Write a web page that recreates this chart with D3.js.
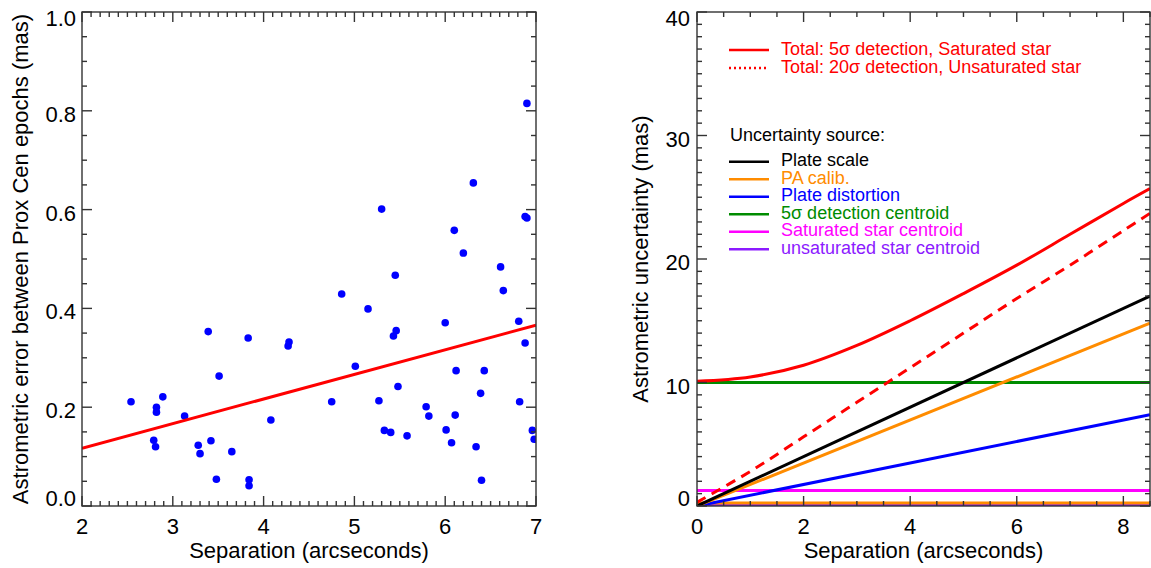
<!DOCTYPE html>
<html>
<head>
<meta charset="utf-8">
<script src="https://cdn.jsdelivr.net/npm/d3@7"></script>
<style>
  html, body { margin: 0; padding: 0; background: #fff; }
  svg { display: block; font-family: "Liberation Sans", Arial, Helvetica, sans-serif; }
</style>
</head>
<body>
<svg id="chart" width="1151" height="568"></svg>
<script>
// ---- Left panel: epoch-to-epoch astrometric error vs separation ----
const sepArcsec = [6.90, 6.31, 5.30, 6.88, 6.90, 6.10, 6.20, 6.61, 6.64, 5.45,
                   4.86, 5.15, 6.00, 6.81, 5.46, 5.43, 3.39, 3.83, 4.28, 4.27,
                   6.88, 5.01, 6.12, 6.43, 3.51, 5.48, 6.39, 2.89, 2.54, 4.75,
                   5.27, 6.82, 2.82, 2.82, 5.79, 5.82, 6.11, 3.13, 4.08, 6.01,
                   6.96, 5.33, 5.40, 5.58, 6.98, 6.07, 2.79, 2.81, 3.28, 3.42,
                   3.30, 3.65, 6.34, 3.48, 3.84, 3.84, 6.40];
const errMas    = [0.815, 0.654, 0.601, 0.586, 0.583, 0.558, 0.512, 0.484, 0.436, 0.467,
                   0.429, 0.399, 0.371, 0.374, 0.355, 0.344, 0.353, 0.340, 0.332, 0.324,
                   0.330, 0.283, 0.274, 0.274, 0.263, 0.242, 0.228, 0.221, 0.211, 0.211,
                   0.213, 0.211, 0.200, 0.190, 0.201, 0.182, 0.184, 0.182, 0.174, 0.154,
                   0.153, 0.153, 0.149, 0.142, 0.135, 0.128, 0.133, 0.120, 0.123, 0.132,
                   0.106, 0.110, 0.120, 0.054, 0.053, 0.041, 0.052];
// linear fit through the points, given at the two ends of the axis
const fitSep = [2, 7];
const fitErr = [0.117, 0.366];
const leftXTicks = [2, 3, 4, 5, 6, 7];
const leftYTicks = [0.0, 0.2, 0.4, 0.6, 0.8, 1.0];

// ---- Right panel: uncertainty budget vs separation ----
const budgetSep   = [0, 8.5];
const plateScale  = [0, 17.0];
const paCalib     = [0, 14.8];
const plateDistort = [0, 7.4];
const det5Centroid = [10.0, 10.0];
const satCentroid  = [1.25, 1.25];
const unsatCentroid = [0.05, 0.05];
const calibFloor   = [0.25, 0.25];
const totalSep   = [0, 1, 2, 3, 4, 5, 6, 7, 8, 8.5];
const totalSat   = [10.1, 10.45, 11.4, 13.0, 15.0, 17.2, 19.5, 22.0, 24.5, 25.7];
const totalUnsat = [0.3, 2.8, 5.6, 8.4, 11.2, 14.0, 16.8, 19.5, 22.3, 23.7];
const rightXTicks = [0, 2, 4, 6, 8];
const rightYTicks = [0, 10, 20, 30, 40];

const svg = d3.select("#chart");
const FONT_AXIS = 22, FONT_LEG = 18;
const frameColor = "#333";

// plot boxes
const L = { x0: 82, x1: 536, y0: 12, y1: 506 };
const R = { x0: 697, x1: 1150, y0: 12, y1: 506 };

const xL = d3.scaleLinear().domain([2, 7]).range([L.x0, L.x1]);
const yL = d3.scaleLinear().domain([0, 1]).range([L.y1, L.y0]);
const xR = d3.scaleLinear().domain([0, 8.5]).range([R.x0, R.x1]);
const yR = d3.scaleLinear().domain([0, 40]).range([R.y1, R.y0]);

const defs = svg.append("defs");
function clip(id, b) {
  defs.append("clipPath").attr("id", id).append("rect")
    .attr("x", b.x0).attr("y", b.y0).attr("width", b.x1 - b.x0).attr("height", b.y1 - b.y0);
}
clip("clipL", L);
clip("clipR", R);

// inward ticks on all four sides, IDL style
function drawFrame(b, xs, ys, xMajor, xMinorStep, yMajor, yMinorStep) {
  const g = svg.append("g").attr("stroke", frameColor).attr("stroke-width", 1.4).attr("fill", "none");
  const [xa, xb] = xs.domain(), [ya, yb] = ys.domain();
  const xMinor = d3.range(xa, xb + 1e-9, xMinorStep);
  const yMinor = d3.range(ya, yb + 1e-9, yMinorStep);
  const isMajor = (v, arr) => arr.some(m => Math.abs(m - v) < 1e-6);
  xMinor.forEach(v => {
    const len = isMajor(v, xMajor) ? 10 : 5, x = xs(v);
    g.append("line").attr("x1", x).attr("x2", x).attr("y1", b.y1).attr("y2", b.y1 - len);
    g.append("line").attr("x1", x).attr("x2", x).attr("y1", b.y0).attr("y2", b.y0 + len);
  });
  yMinor.forEach(v => {
    const len = isMajor(v, yMajor) ? 10 : 5, y = ys(v);
    g.append("line").attr("x1", b.x0).attr("x2", b.x0 + len).attr("y1", y).attr("y2", y);
    g.append("line").attr("x1", b.x1).attr("x2", b.x1 - len).attr("y1", y).attr("y2", y);
  });
  g.append("rect").attr("x", b.x0).attr("y", b.y0).attr("width", b.x1 - b.x0).attr("height", b.y1 - b.y0);
}

function tickLabels(b, xs, ys, xt, yt, xfmt, yfmt, labelRight) {
  const g = svg.append("g").attr("font-size", FONT_AXIS).attr("fill", "#000");
  xt.forEach(v => g.append("text").attr("x", xs(v)).attr("y", 534)
    .attr("text-anchor", "middle").text(xfmt(v)));
  const n = yt.length;
  yt.forEach((v, i) => {
    let cy = ys(v) + 3;
    if (i === 0) cy = ys(v) - 8;
    if (i === n - 1) cy = ys(v) + 6;
    g.append("text").attr("x", labelRight).attr("y", cy + 8)
      .attr("text-anchor", "end").text(yfmt(v));
  });
}

// ===== Left panel =====
const gL = svg.append("g").attr("clip-path", "url(#clipL)");
gL.selectAll("circle").data(sepArcsec).join("circle")
  .attr("cx", (d) => xL(d)).attr("cy", (d, i) => yL(errMas[i]))
  .attr("r", 3.8).attr("fill", "#0000ff");
gL.append("path")
  .datum(fitSep.map((s, i) => [s, fitErr[i]]))
  .attr("d", d3.line().x(d => xL(d[0])).y(d => yL(d[1])))
  .attr("stroke", "#ff0000").attr("stroke-width", 3).attr("fill", "none");

drawFrame(L, xL, yL, leftXTicks, 0.1, leftYTicks, 0.05);
tickLabels(L, xL, yL, leftXTicks, leftYTicks, d3.format("d"), d3.format(".1f"), 76);

svg.append("text").attr("x", (L.x0 + L.x1) / 2).attr("y", 558)
  .attr("text-anchor", "middle").attr("font-size", FONT_AXIS).text("Separation (arcseconds)");
svg.append("text").attr("transform", `translate(28,${(L.y0 + L.y1) / 2}) rotate(-90)`)
  .attr("text-anchor", "middle").attr("font-size", FONT_AXIS)
  .text("Astrometric error between Prox Cen epochs (mas)");

// ===== Right panel =====
const gR = svg.append("g").attr("clip-path", "url(#clipR)");
const lineR = d3.line().x(d => xR(d[0])).y(d => yR(d[1]));
const curveR = d3.line().x(d => xR(d[0])).y(d => yR(d[1])).curve(d3.curveCatmullRom.alpha(0.5));
const pairs = (xs, ys) => xs.map((x, i) => [x, ys[i]]);

const components = [
  { vals: unsatCentroid, color: "#8c1aff" },
  { vals: satCentroid, color: "#ff00ff" },
  { vals: calibFloor, color: "#ff8c00" },
  { vals: det5Centroid, color: "#008c00" },
  { vals: plateDistort, color: "#0000ff" },
  { vals: paCalib, color: "#ff8c00" },
  { vals: plateScale, color: "#000000" }
];
components.forEach(c => {
  gR.append("path").datum(pairs(budgetSep, c.vals)).attr("d", lineR)
    .attr("stroke", c.color).attr("stroke-width", 3).attr("fill", "none");
});
gR.append("path").datum(pairs(totalSep, totalUnsat)).attr("d", curveR)
  .attr("stroke", "#ff0000").attr("stroke-width", 3).attr("fill", "none")
  .attr("stroke-dasharray", "10,7");
gR.append("path").datum(pairs(totalSep, totalSat)).attr("d", curveR)
  .attr("stroke", "#ff0000").attr("stroke-width", 3).attr("fill", "none");

drawFrame(R, xR, yR, rightXTicks, 0.5, rightYTicks, 1);
tickLabels(R, xR, yR, rightXTicks, rightYTicks, d3.format("d"), d3.format("d"), 690);

svg.append("text").attr("x", (R.x0 + R.x1) / 2).attr("y", 558)
  .attr("text-anchor", "middle").attr("font-size", FONT_AXIS).text("Separation (arcseconds)");
svg.append("text").attr("transform", `translate(648,${(R.y0 + R.y1) / 2}) rotate(-90)`)
  .attr("text-anchor", "middle").attr("font-size", FONT_AXIS)
  .text("Astrometric uncertainty (mas)");

// legend
const leg = svg.append("g").attr("font-size", FONT_LEG);
const legTotals = [
  { label: "Total: 5σ detection, Saturated star", dash: null, y: 50 },
  { label: "Total: 20σ detection, Unsaturated star", dash: "2,3", y: 68 }
];
legTotals.forEach(t => {
  leg.append("line").attr("x1", 729).attr("x2", 769).attr("y1", t.y).attr("y2", t.y)
    .attr("stroke", "#ff0000").attr("stroke-width", 2.5)
    .attr("stroke-dasharray", t.dash);
  leg.append("text").attr("x", 781).attr("y", t.y + 4.5).attr("fill", "#ff0000").text(t.label);
});
leg.append("text").attr("x", 730).attr("y", 141).attr("fill", "#000").text("Uncertainty source:");
const legItems = [
  { label: "Plate scale", color: "#000000" },
  { label: "PA calib.", color: "#ff8c00" },
  { label: "Plate distortion", color: "#0000ff" },
  { label: "5σ detection centroid", color: "#008c00" },
  { label: "Saturated star centroid", color: "#ff00ff" },
  { label: "unsaturated star centroid", color: "#8c1aff" }
];
legItems.forEach((it, i) => {
  const y = 161.7 + i * 17.5;
  leg.append("line").attr("x1", 729).attr("x2", 769).attr("y1", y).attr("y2", y)
    .attr("stroke", it.color).attr("stroke-width", 2.5);
  leg.append("text").attr("x", 781).attr("y", y + 4.5).attr("fill", it.color).text(it.label);
});
</script>
</body>
</html>
